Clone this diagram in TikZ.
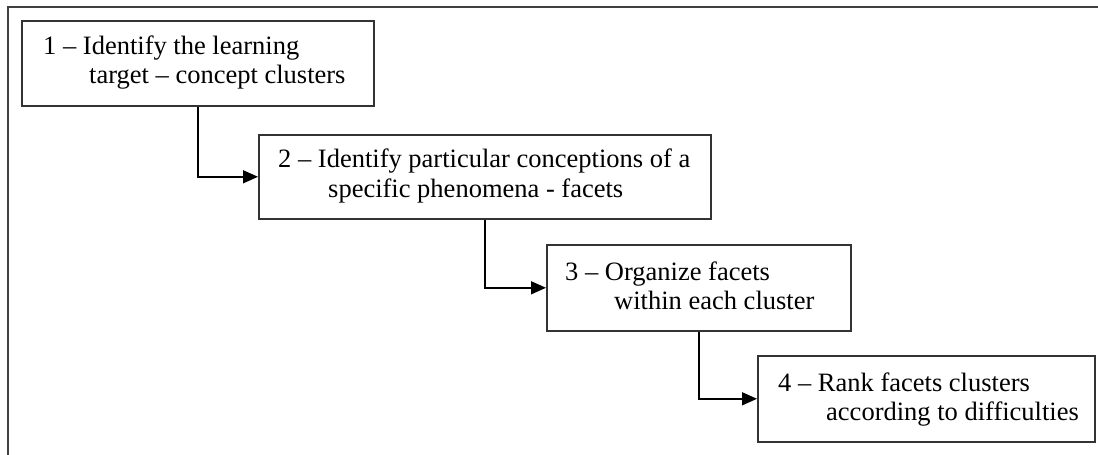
\documentclass[tikz,border=0pt]{standalone}
\usepackage{fontspec}
\setmainfont{Liberation Serif}
\usetikzlibrary{arrows.meta}
\begin{document}
\begin{tikzpicture}[x=1pt, y=-1pt,
  stepbox/.style={draw=black!80, line width=1.6pt, rectangle, inner sep=0pt, anchor=north west},
  conn/.style={draw=black, line width=1.5pt, -{Triangle[length=15pt, width=13pt]}},
  frame/.style={draw=black!75, line width=2pt},
  lbl/.style={anchor=base west, inner sep=0pt, font=\fontsize{26.5}{29}\selectfont}]
  \useasboundingbox (0,0) rectangle (1098,455);

  % outer frame (runs off the right and bottom edges)
  \coordinate (fl) at (8,455);
  \coordinate (fc) at (8,7);
  \coordinate (fr) at (1100,7);
  \draw[frame] (fl) -- (fc) -- (fr);

  % step boxes
  \node[stepbox, minimum width=352pt, minimum height=85pt] (b1) at (21,20) {};
  \node[stepbox, minimum width=452pt, minimum height=84pt] (b2) at (258,134) {};
  \node[stepbox, minimum width=304pt, minimum height=86pt] (b3) at (546,244) {};
  \node[stepbox, minimum width=337pt, minimum height=86pt] (b4) at (757,355) {};

  % box texts
  \node[lbl] (t1a) at (43,54)  {1 – Identify the learning};
  \node[lbl] (t1b) at (89,83)  {target – concept clusters};
  \node[lbl] (t2a) at (278,167) {2 – Identify particular conceptions of a};
  \node[lbl] (t2b) at (328,197) {specific phenomena - facets};
  \node[lbl] (t3a) at (565,280) {3 – Organize facets};
  \node[lbl] (t3b) at (614,309) {within each cluster};
  \node[lbl] (t4a) at (778,391) {4 – Rank facets clusters};
  \node[lbl] (t4b) at (826,420) {according to difficulties};

  % connectors
  \draw[conn] (b1.south) |- (b2.west);
  \draw[conn] (b2.south) |- (b3.west);
  \draw[conn] (b3.south) |- (b4.west);
\end{tikzpicture}
\end{document}
